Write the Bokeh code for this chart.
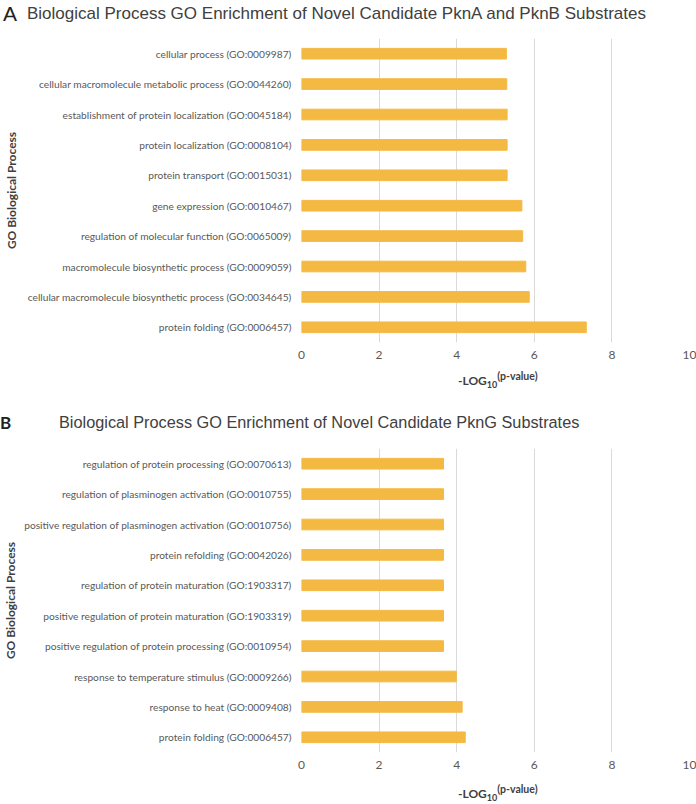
from bokeh.plotting import figure
from bokeh.models import FactorRange, Range1d, FixedTicker, Div
from bokeh.layouts import column
from bokeh.embed import file_html
from bokeh.resources import INLINE

# ---------------- data ----------------
cats_a = [
    "cellular process (GO:0009987)",
    "cellular macromolecule metabolic process (GO:0044260)",
    "establishment of protein localization (GO:0045184)",
    "protein localization (GO:0008104)",
    "protein transport (GO:0015031)",
    "gene expression (GO:0010467)",
    "regulation of molecular function (GO:0065009)",
    "macromolecule biosynthetic process (GO:0009059)",
    "cellular macromolecule biosynthetic process (GO:0034645)",
    "protein folding (GO:0006457)",
]
vals_a = [5.28, 5.29, 5.30, 5.30, 5.30, 5.68, 5.70, 5.78, 5.87, 7.34]

cats_b = [
    "regulation of protein processing (GO:0070613)",
    "regulation of plasminogen activation (GO:0010755)",
    "positive regulation of plasminogen activation (GO:0010756)",
    "protein refolding (GO:0042026)",
    "regulation of protein maturation (GO:1903317)",
    "positive regulation of protein maturation (GO:1903319)",
    "positive regulation of protein processing (GO:0010954)",
    "response to temperature stimulus (GO:0009266)",
    "response to heat (GO:0009408)",
    "protein folding (GO:0006457)",
]
vals_b = [3.66, 3.66, 3.66, 3.66, 3.66, 3.66, 3.66, 3.99, 4.14, 4.22]

x_ticks = [0, 2, 4, 6, 8, 10]
title_a = "Biological Process GO Enrichment of Novel Candidate PknA and PknB Substrates"
title_b = "Biological Process GO Enrichment of Novel Candidate PknG Substrates"
y_title = "GO Biological Process"

BAR = "#F4B942"
GRID = "#DADADA"
TXT = "#595959"
DARK = "#404040"
LAB_FONT = "Lato"
W = 696


def chart(cats, vals, height, top, bottom, label_standoff):
    order = list(reversed(cats))  # factors listed bottom -> top
    p = figure(width=W, height=height, output_backend="svg", toolbar_location=None,
               y_range=FactorRange(factors=order), x_range=Range1d(0, 10),
               min_border_left=301, min_border_right=7,
               min_border_top=top, min_border_bottom=bottom)
    p.hbar(y=cats, right=vals, left=0, height=0.35, color=BAR)
    p.outline_line_color = None
    p.ygrid.grid_line_color = None
    p.xgrid.grid_line_color = GRID
    p.xaxis.ticker = FixedTicker(ticks=x_ticks)
    for ax in (p.xaxis, p.yaxis):
        ax.axis_line_color = None
        ax.major_tick_line_color = None
        ax.minor_tick_line_color = None
        ax.major_tick_out = 0
        ax.major_tick_in = 0
        ax.major_label_text_color = TXT
        ax.major_label_text_font = LAB_FONT
    p.xaxis.major_label_text_font_size = "12px"
    p.xaxis.major_label_standoff = 8
    p.yaxis.major_label_text_font_size = "10.2px"
    p.yaxis.major_label_standoff = 10
    p.yaxis.axis_label = y_title
    p.yaxis.axis_label_text_font = LAB_FONT
    p.yaxis.axis_label_text_font_size = "12px"
    p.yaxis.axis_label_text_font_style = "bold"
    p.yaxis.axis_label_text_color = DARK
    p.yaxis.axis_label_standoff = label_standoff
    return p


def header(letter, letter_css, title, title_css, title_left, center, height, letter_left):
    html = (
        f'<div style="position:relative;width:{W}px;height:{height}px;">'
        f'<span style="position:absolute;left:{letter_left}px;top:{center}px;transform:translateY(-50%);'
        f'line-height:1;white-space:nowrap;{letter_css}">{letter}</span>'
        f'<span style="position:absolute;left:{title_left}px;top:{center}px;transform:translateY(-50%);'
        f'line-height:1;white-space:nowrap;font-family:\'Liberation Sans\';color:{DARK};{title_css}">{title}</span>'
        '</div>'
    )
    return Div(text=html, width=W, height=height, margin=0, styles={"overflow": "visible"})


def xlabel(center, height):
    base = f"font-family:{LAB_FONT};font-weight:bold;color:{DARK};line-height:1;"
    html = (
        f'<div style="position:relative;width:{W}px;height:{height}px;">'
        f'<span style="position:absolute;left:458px;top:{center}px;transform:translateY(-50%);white-space:nowrap;{base}">'
        f'<span style="font-size:12px;">-LOG</span>'
        f'<span style="font-size:9px;position:relative;top:3px;">10</span>'
        f'<span style="font-size:10.5px;position:relative;top:-5px;">(p-value)</span>'
        '</span></div>'
    )
    return Div(text=html, width=W, height=height, margin=0, styles={"overflow": "visible"})


hdr_a = header("A", "font-family:'Liberation Sans';font-size:21px;color:#222222;",
               title_a, "font-size:17px;", 27, 13, 28, 3)
fig_a = chart(cats_a, vals_a, 334, 10, 20, 6)
xl_a = xlabel(19, 34)
hdr_b = header("B", f"font-family:{LAB_FONT};font-weight:bold;font-size:17px;color:#222222;",
               title_b, "font-size:16.3px;", 59, 26, 42, 0)
fig_b = chart(cats_b, vals_b, 338, 10, 24, 3)
xl_b = xlabel(18, 28)

layout = column(hdr_a, fig_a, xl_a, hdr_b, fig_b, xl_b, spacing=0)
open("out.html", "w").write(file_html(layout, INLINE))
